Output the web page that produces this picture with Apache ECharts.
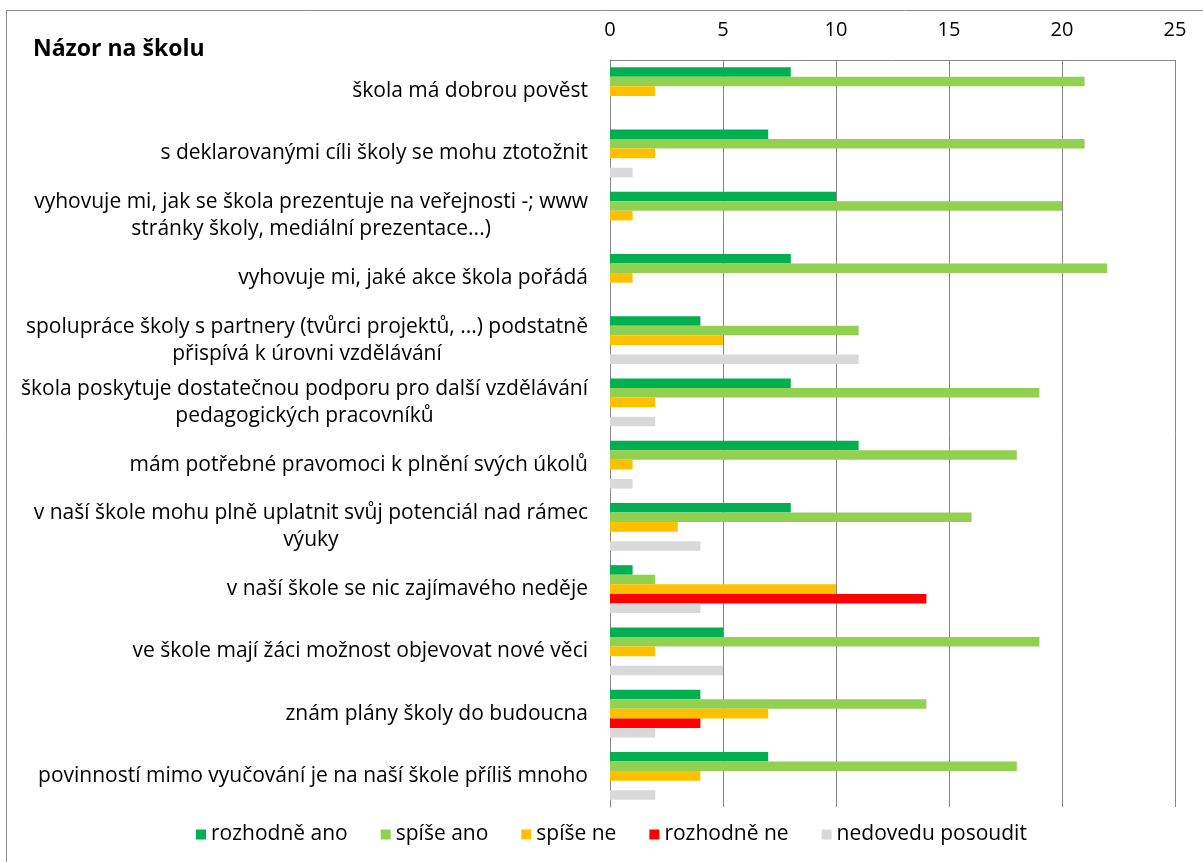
<!DOCTYPE html>
<html>
<head>
<meta charset="utf-8">
<script src="https://cdn.jsdelivr.net/npm/echarts@6/dist/echarts.min.js"></script>
<style>
html,body{margin:0;padding:0;background:#fff;}
#chart{width:1203px;height:862px;}
</style>
</head>
<body>
<div id="chart"></div>
<script>
const categories = [
  "škola má dobrou pověst",
  "s deklarovanými cíli školy se mohu ztotožnit",
  "vyhovuje mi, jak se škola prezentuje na veřejnosti -; www\nstránky školy, mediální prezentace...)",
  "vyhovuje mi, jaké akce škola pořádá",
  "spolupráce školy s partnery (tvůrci projektů, ...) podstatně\npřispívá k úrovni vzdělávání",
  "škola poskytuje dostatečnou podporu pro další vzdělávání\npedagogických pracovníků",
  "mám potřebné pravomoci k plnění svých úkolů",
  "v naší škole mohu plně uplatnit svůj potenciál nad rámec\nvýuky",
  "v naší škole se nic zajímavého neděje",
  "ve škole mají žáci možnost objevovat nové věci",
  "znám plány školy do budoucna",
  "povinností mimo vyučování je na naší škole příliš mnoho"
];
const seriesNames = ["rozhodně ano", "spíše ano", "spíše ne", "rozhodně ne", "nedovedu posoudit"];
const rozhodneAno   = [8, 7, 10, 8, 4, 8, 11, 8, 1, 5, 4, 7];
const spiseAno      = [21, 21, 20, 22, 11, 19, 18, 16, 2, 19, 14, 18];
const spiseNe       = [2, 2, 1, 1, 5, 2, 1, 3, 10, 2, 7, 4];
const rozhodneNe    = [0, 0, 0, 0, 0, 0, 0, 0, 14, 0, 4, 0];
const nedovedu      = [0, 1, 0, 0, 11, 2, 1, 4, 4, 5, 2, 2];
const xTicks = [0, 5, 10, 15, 20, 25];
const titleText = "Názor na školu";

const colors = ["#00B050", "#92D050", "#FFC000", "#FF0000", "#D9D9D9"];
const values = [rozhodneAno, spiseAno, spiseNe, rozhodneNe, nedovedu];
const FONT = "'Open Sans', Lato, sans-serif";

const chart = echarts.init(document.getElementById('chart'), null, {renderer: 'canvas'});
chart.setOption({
  animation: false,
  backgroundColor: '#fff',
  color: colors,
  graphic: [{
    type: 'rect',
    shape: {x: 6.5, y: 10.5, width: 1300, height: 1000},
    style: {fill: 'none', stroke: '#8c8c8c', lineWidth: 1},
    silent: true, z: -1
  }],
  title: {
    text: titleText,
    left: 28, top: 33,
    textStyle: {fontFamily: FONT, fontWeight: 'bold', fontSize: 23, color: '#000'}
  },
  legend: {
    data: seriesNames,
    left: 191, top: 819,
    itemWidth: 10, itemHeight: 10, itemGap: 33,
    icon: 'rect',
    textStyle: {fontFamily: FONT, fontSize: 21, color: '#000'}
  },
  grid: {left: 610, right: 28, top: 60, bottom: 55, containLabel: false},
  xAxis: {
    type: 'value',
    position: 'top',
    min: 0, max: 25, interval: 5,
    axisLine: {show: true, lineStyle: {color: '#868686', width: 1}},
    axisTick: {show: false},
    axisLabel: {
      margin: 20, fontFamily: FONT, fontSize: 20, color: '#000',
      formatter: function (v) { return xTicks.indexOf(v) >= 0 ? String(v) : ''; }
    },
    splitLine: {show: true, lineStyle: {color: '#868686', width: 1}}
  },
  yAxis: {
    type: 'category',
    inverse: true,
    data: categories,
    axisLine: {show: true, lineStyle: {color: '#868686', width: 1}},
    axisTick: {show: false},
    axisLabel: {
      margin: 22, fontFamily: FONT, fontSize: 21, color: '#000', lineHeight: 27,
      formatter: function (v) {
        return v.split('\n').map(function (s) { return '{c|' + s + '}'; }).join('\n');
      },
      rich: {c: {align: 'center', fontFamily: FONT, fontSize: 21, color: '#000', lineHeight: 27}}
    }
  },
  series: seriesNames.map(function (name, i) {
    return {
      name: name,
      type: 'bar',
      data: values[i],
      barGap: '0%',
      barCategoryGap: '23%',
      itemStyle: {color: colors[i]}
    };
  })
});
</script>
</body>
</html>
